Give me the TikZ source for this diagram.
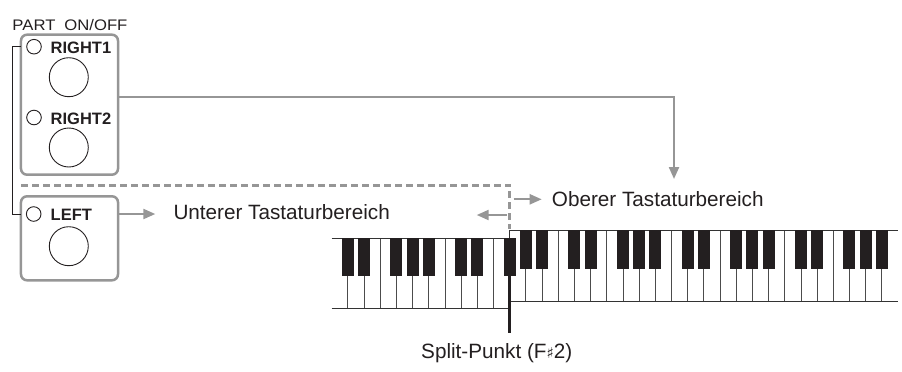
\documentclass[tikz,border=0pt]{standalone}
\usepackage{fontspec}
\setmainfont{Liberation Sans}
\newfontfamily\sharpfont{DejaVu Sans}
\usetikzlibrary{arrows.meta,calc}
\definecolor{ink}{HTML}{231F20}
\definecolor{gline}{HTML}{969696}
\begin{document}
\begin{tikzpicture}[x=1bp,y=-1bp,
  panel/.style={draw=gline,line width=2.5bp,rounded corners=6bp,minimum width=97bp,inner sep=0,outer sep=0},
  led/.style={circle,draw=ink,line width=0.9bp,minimum size=14.6bp,inner sep=0},
  btn/.style={circle,draw=ink,line width=0.9bp,minimum size=39bp,inner sep=0},
  blab/.style={anchor=base west,inner sep=0,text=ink,font=\fontsize{16.5bp}{19bp}\selectfont\bfseries},
  bigtxt/.style={anchor=base west,inner sep=0,text=ink,font=\fontsize{20.7bp}{24bp}\selectfont},
  garrow/.style={draw=gline,line width=2.2bp,-{Triangle[length=12bp,width=10bp]}},
  splitdash/.style={draw=gline,line width=3bp,dash pattern=on 7bp off 4bp},
  wline/.style={draw=black!70,line width=0.8bp},
  kline/.style={draw=black!80,line width=1bp},
]
\useasboundingbox (0,0) rectangle (902,371);

% title
\node[anchor=base west,inner sep=0,text=ink,font=\fontsize{15.3bp}{18bp}\selectfont] (title) at (12.3,30) {\scalebox{1.09}[1]{PART\hspace{4bp} ON/OFF}};

% panels
\node[panel,minimum height=140bp] (box1) at (69.5,104.7) {};
\node[panel,minimum height=84bp] (box2) at (69.5,238.3) {};

% leds, labels, buttons
\node[led] (led1) at (34,46.7) {};
\node[led] (led2) at (34,117.5) {};
\node[led] (led3) at (33.7,214) {};
\node[blab] (lab1) at (50.5,53.8) {RIGHT1};
\node[blab] (lab2) at (50.5,124.5) {RIGHT2};
\node[blab] (lab3) at (50.5,220.3) {LEFT};
\node[btn] (btn1) at (68.8,77.2) {};
\node[btn] (btn2) at (68.8,147.5) {};
\node[btn] (btn3) at (68.8,246.2) {};

% bracket
\draw[ink,line width=0.9bp] (box1.west |- led1) -- ++(-8.3,0) |- (box2.west |- led3);

% texts
\node[bigtxt] (lower) at (173.3,219.3) {Unterer Tastaturbereich};
\node[bigtxt] (upper) at (551.7,206.5) {Oberer Tastaturbereich};
\node[bigtxt] (split) at (421,358.3) {Split-Punkt (F{\sharpfont\fontsize{15bp}{15bp}\selectfont ♯}2)};

% keyboard
\def\kx{331.7}\def\kw{16.18}
\foreach \j in {3,7,10} \draw[wline] ({\kx+\j*\kw},238) -- ({\kx+\j*\kw},308.5);
\foreach \j in {1,2,4,5,6,8,9} \draw[wline] ({\kx+\j*\kw},275.7) -- ({\kx+\j*\kw},308.5);
\foreach \j in {14,17,21,24,28,31} \draw[wline] ({\kx+\j*\kw},230.3) -- ({\kx+\j*\kw},301);
\foreach \j in {12,13,15,16,18,19,20,22,23,25,26,27,29,30,32,33,34} \draw[wline] ({\kx+\j*\kw},268.5) -- ({\kx+\j*\kw},301);
\draw[kline] (\kx,238) -- ({\kx+11*\kw},238) -- ({\kx+11*\kw},230.3) -- ({\kx+35*\kw},230.3);
\draw[kline] (\kx,308.5) -- ({\kx+11*\kw},308.5) -- ({\kx+11*\kw},301) -- ({\kx+35*\kw},301);
\foreach \j in {1,2,4,5,6,8,9,11} \fill[ink] ({\kx+\j*\kw-6},238) rectangle ({\kx+\j*\kw+6},275.7);
\foreach \j in {12,13,15,16,18,19,20,22,23,25,26,27,29,30,32,33,34} \fill[ink] ({\kx+\j*\kw-6},230.3) rectangle ({\kx+\j*\kw+6},268.5);
\coordinate (sp0) at ({\kx+11*\kw},275.7);
\coordinate (sp1) at ({\kx+11*\kw},333);
\draw[ink,line width=3.5bp] (sp0) -- (sp1);

% dashed split marker
\coordinate (dstart) at (21,185);
\coordinate (dcorner) at ({\kx+11*\kw},185);
\coordinate (dend) at ({\kx+11*\kw},229);
\draw[splitdash] (dstart) -- (dcorner) -- (dend);

% arrows
\coordinate (r1out) at (118,96.7);
\coordinate (uptip) at (674,179);
\draw[garrow] (r1out) -| (uptip);
\draw[garrow,shorten >=18bp] (box2.east |- led3) -- (lower.west |- led3);
\coordinate (la0) at (506.5,215);
\coordinate (la1) at (476.7,215);
\draw[garrow] (la0) -- (la1);
\coordinate (ra0) at (513.5,199.3);
\coordinate (ra1) at (541.7,199.3);
\draw[garrow] (ra0) -- (ra1);
\end{tikzpicture}
\end{document}
